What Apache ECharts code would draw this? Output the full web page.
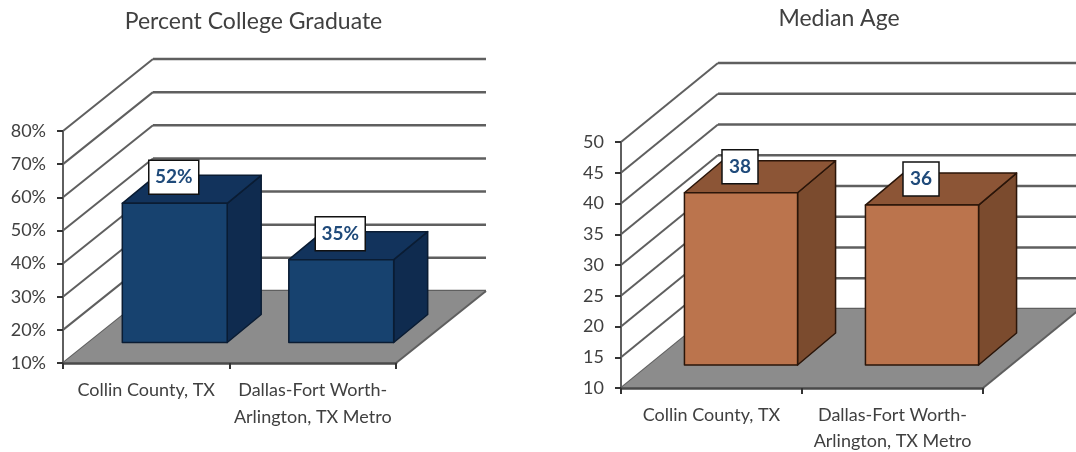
<!DOCTYPE html>
<html><head><meta charset="utf-8">
<style>html,body{margin:0;padding:0;background:#fff}#c{width:1076px;height:452px}</style>
<script src="https://cdn.jsdelivr.net/npm/echarts@6/dist/echarts.min.js"></script>
</head><body><div id="c"></div>
<script>
var categories = ['Collin County, TX', 'Dallas-Fort Worth-\nArlington, TX Metro'];
var collegeValues = [52, 35];
var ageValues = [38, 36];
var collegeTicks = [10, 20, 30, 40, 50, 60, 70, 80];
var ageTicks = [10, 15, 20, 25, 30, 35, 40, 45, 50];

var INK = '#404040', LINE = '#5f5f5f';
var FONT = 'Lato, "Open Sans", sans-serif';

var panels = [
  { title: 'Percent College Graduate', titleX: 253.5, titleY: 10, values: collegeValues, ticks: collegeTicks,
    suffix: '%', grid: { left: 63, top: 131, width: 333, height: 232 },
    wall: [90, -72], offset: [28.5, -20.5], side: [34, -28], ratio: 0.63, labelW: 50, labelH: 34,
    labelMargin: 14, lineHeight: 27,
    front: '#17426f', top: '#12335c', right: '#0f2b4f', stroke: '#0a1c33' },
  { title: 'Median Age', titleX: 839, titleY: 7, values: ageValues, ticks: ageTicks,
    suffix: '', grid: { left: 621, top: 142, width: 362, height: 246 },
    wall: [97, -79], offset: [29.5, -23], side: [38, -32], ratio: 0.625, labelW: 36, labelH: 34,
    labelMargin: 14, lineHeight: 26,
    front: '#bb744d', top: '#8c5536', right: '#7b4b2e', stroke: '#2a1509' }
];

function wallItem(p) {
  return function (params, api) {
    var v = api.value(0), c = api.coord([0, v]), g = params.coordSys;
    var x0 = g.x, y0 = c[1], xb = x0 + p.wall[0], yb = y0 + p.wall[1], xe = g.x + g.width + p.wall[0];
    return { type: 'group', children: [
      { type: 'line', shape: { x1: x0, y1: y0, x2: xb, y2: yb }, style: { stroke: LINE, lineWidth: 2 } },
      { type: 'line', shape: { x1: xb, y1: yb, x2: xe, y2: yb }, style: { stroke: LINE, lineWidth: 2.5 } }
    ] };
  };
}
function floorItem(p) {
  return function (params, api) {
    var g = params.coordSys, y = api.coord([0, api.value(0)])[1];
    var xr = g.x + g.width;
    return { type: 'group', children: [
      { type: 'polygon', shape: { points: [[g.x, y], [xr, y], [xr + p.wall[0], y + p.wall[1]], [g.x + p.wall[0], y + p.wall[1]]] },
        style: { fill: '#8c8c8c' } },
      { type: 'line', shape: { x1: xr, y1: y, x2: xr + p.wall[0], y2: y + p.wall[1] }, style: { stroke: LINE, lineWidth: 2 } }
    ] };
  };
}
function barItem(p) {
  return function (params, api) {
    var i = api.value(0), v = api.value(1);
    var top = api.coord([i, v]), base = api.coord([i, p.ticks[0]]);
    var w = api.size([1, 0])[0] * p.ratio;
    var cx = top[0] + p.offset[0];
    var l = cx - w / 2, r = cx + w / 2, t = top[1] + p.offset[1], b = base[1] + p.offset[1];
    var sx = p.side[0], sy = p.side[1];
    function st(fill) { return { fill: fill, stroke: p.stroke, lineWidth: 1.5, lineJoin: 'round' }; }
    return { type: 'group', children: [
      { type: 'polygon', shape: { points: [[r, t], [r + sx, t + sy], [r + sx, b + sy], [r, b]] }, style: st(p.right) },
      { type: 'polygon', shape: { points: [[l, t], [l + sx, t + sy], [r + sx, t + sy], [r, t]] }, style: st(p.top) },
      { type: 'rect', shape: { x: l, y: t, width: w, height: b - t }, style: st(p.front) },
      { type: 'rect', shape: { x: cx - 1 - p.labelW / 2, y: t - 26 - p.labelH / 2, width: p.labelW, height: p.labelH },
        style: { fill: '#fff', stroke: '#111', lineWidth: 1.5 } },
      { type: 'text', style: { x: cx - 1, y: t - 26, text: v + p.suffix, align: 'center', verticalAlign: 'middle',
        fill: '#1f4a7a', font: 'bold 19px ' + FONT } }
    ] };
  };
}

var option = { animation: false, backgroundColor: '#fff', title: [], grid: [], xAxis: [], yAxis: [], series: [] };
panels.forEach(function (p, k) {
  option.title.push({ text: p.title, left: p.titleX, top: p.titleY, textAlign: 'center', padding: 0,
    textStyle: { color: INK, fontFamily: FONT, fontWeight: 'normal', fontSize: 23 } });
  option.grid.push({ left: p.grid.left, top: p.grid.top, width: p.grid.width, height: p.grid.height,
    containLabel: false, outerBoundsMode: 'none' });
  option.xAxis.push({ type: 'category', gridIndex: k, data: categories, z: 6,
    axisLine: { lineStyle: { color: '#4a4a4a', width: 2.5 } },
    axisTick: { show: true, alignWithLabel: false, length: 6, lineStyle: { color: '#333', width: 2 } },
    axisLabel: { color: INK, fontFamily: FONT, fontSize: 18, lineHeight: p.lineHeight, margin: p.labelMargin, interval: 0 } });
  option.yAxis.push({ type: 'value', gridIndex: k, z: 6, min: p.ticks[0], max: p.ticks[p.ticks.length - 1],
    interval: p.ticks[1] - p.ticks[0],
    axisLine: { show: true, lineStyle: { color: LINE, width: 2 } },
    axisTick: { show: true, length: 6, lineStyle: { color: '#333', width: 2 } },
    splitLine: { show: false },
    axisLabel: { color: INK, fontFamily: FONT, fontSize: 18, margin: 17,
      formatter: function (v) { return v + p.suffix; } } });
  var base = { type: 'custom', xAxisIndex: k, yAxisIndex: k, clip: false, silent: true };
  option.series.push(Object.assign({}, base, { z: 1, renderItem: wallItem(p),
    data: p.ticks.map(function (v) { return [v]; }), encode: { y: 0 } }));
  option.series.push(Object.assign({}, base, { z: 2, renderItem: floorItem(p),
    data: [[p.ticks[0]]], encode: { y: 0 } }));
  option.series.push(Object.assign({}, base, { z: 3, renderItem: barItem(p),
    data: p.values.map(function (v, i) { return [i, v]; }), encode: { x: 0, y: 1 } }));
});
var chart = echarts.init(document.getElementById('c'));
chart.setOption(option);
</script></body></html>
